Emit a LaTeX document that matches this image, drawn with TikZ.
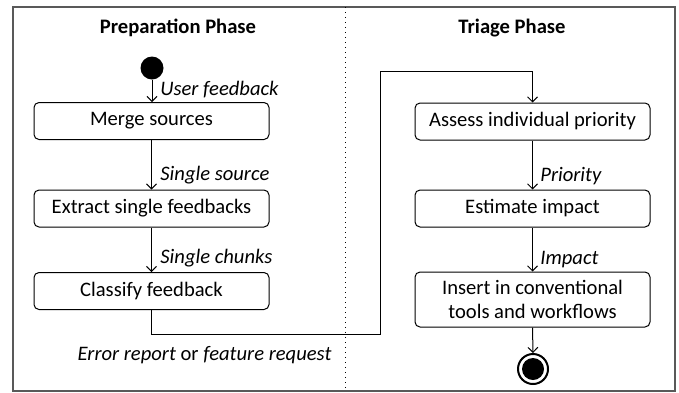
\documentclass[tikz,border=0pt]{standalone}
\usepackage{fontspec}
\setmainfont{Carlito}
\usetikzlibrary{arrows.meta}
\begin{document}
\begin{tikzpicture}[x=0.5pt,y=-0.5pt,
  font=\fontsize{10.3}{12.4}\selectfont,
  actbox/.style={draw=black,line width=0.5pt,fill=white,rounded corners=2.5pt,
    minimum width=117.5pt,minimum height=18.5pt,inner sep=1pt,align=center},
  arr/.style={line width=0.5pt,-{Straight Barb[width=5pt,length=2.5pt]}},
  lbl/.style={font=\fontsize{10.3}{12.4}\selectfont\itshape,inner sep=0pt,anchor=base west},
  ttl/.style={font=\fontsize{10.3}{12.4}\selectfont\bfseries,inner sep=0pt,anchor=base}]
\useasboundingbox (0,0) rectangle (679,392);
% frame and divider
\draw[line width=1pt,draw=black!65] (13,7) rectangle (675,391);
\draw[line width=0.5pt,dotted] (345,7) -- (345,391);
% titles
\node[ttl] (t1) at (178,33) {Preparation Phase};
\node[ttl] (t2) at (512,33) {Triage Phase};
% left column
\node[circle,fill=black,minimum size=11.5pt,inner sep=0pt] (start) at (152,68) {};
\node[actbox] (merge) at (151.5,121) {Merge sources};
\node[actbox] (extract) at (151.5,208.5) {Extract single feedbacks};
\node[actbox] (classify) at (151.5,291) {Classify feedback};
% right column
\node[actbox] (assess) at (532.5,121.5) {Assess individual priority};
\node[actbox] (estimate) at (532.5,208.5) {Estimate impact};
\node[actbox,minimum height=27.5pt] (insert) at (532.5,299.5) {Insert in conventional\\tools and workflows};
\node[circle,draw=black,line width=1pt,minimum size=15pt,inner sep=0pt] (endring) at (533,369) {};
\node[circle,fill=black,minimum size=11pt,inner sep=0pt] (enddot) at (endring.center) {};
% connectors
\draw[arr] (start.south) -- (start.south |- merge.north);
\draw[arr] (merge.south) -- (extract.north);
\draw[arr] (extract.south) -- (classify.north);
\coordinate (c1) at (380,334);
\coordinate (c2) at (380,71);
\draw[arr] (classify.south) |- (c1) -- (c2) -| (assess.north);
\draw[arr] (assess.south) -- (estimate.north);
\draw[arr] (estimate.south) -- (insert.north);
\draw[arr] (insert.south) -- (endring.north);
% labels
\node[lbl] (l1) at (160,95) {User feedback};
\node[lbl] (l2) at (160,180) {Single source};
\node[lbl] (l3) at (160,263) {Single chunks};
\node[lbl] (l4) at (540,181.5) {Priority};
\node[lbl] (l5) at (540,264) {Impact};
\node[inner sep=0pt,anchor=base] (l6) at (204.5,360) {\textit{Error report} or \textit{feature request}};
\end{tikzpicture}
\end{document}
